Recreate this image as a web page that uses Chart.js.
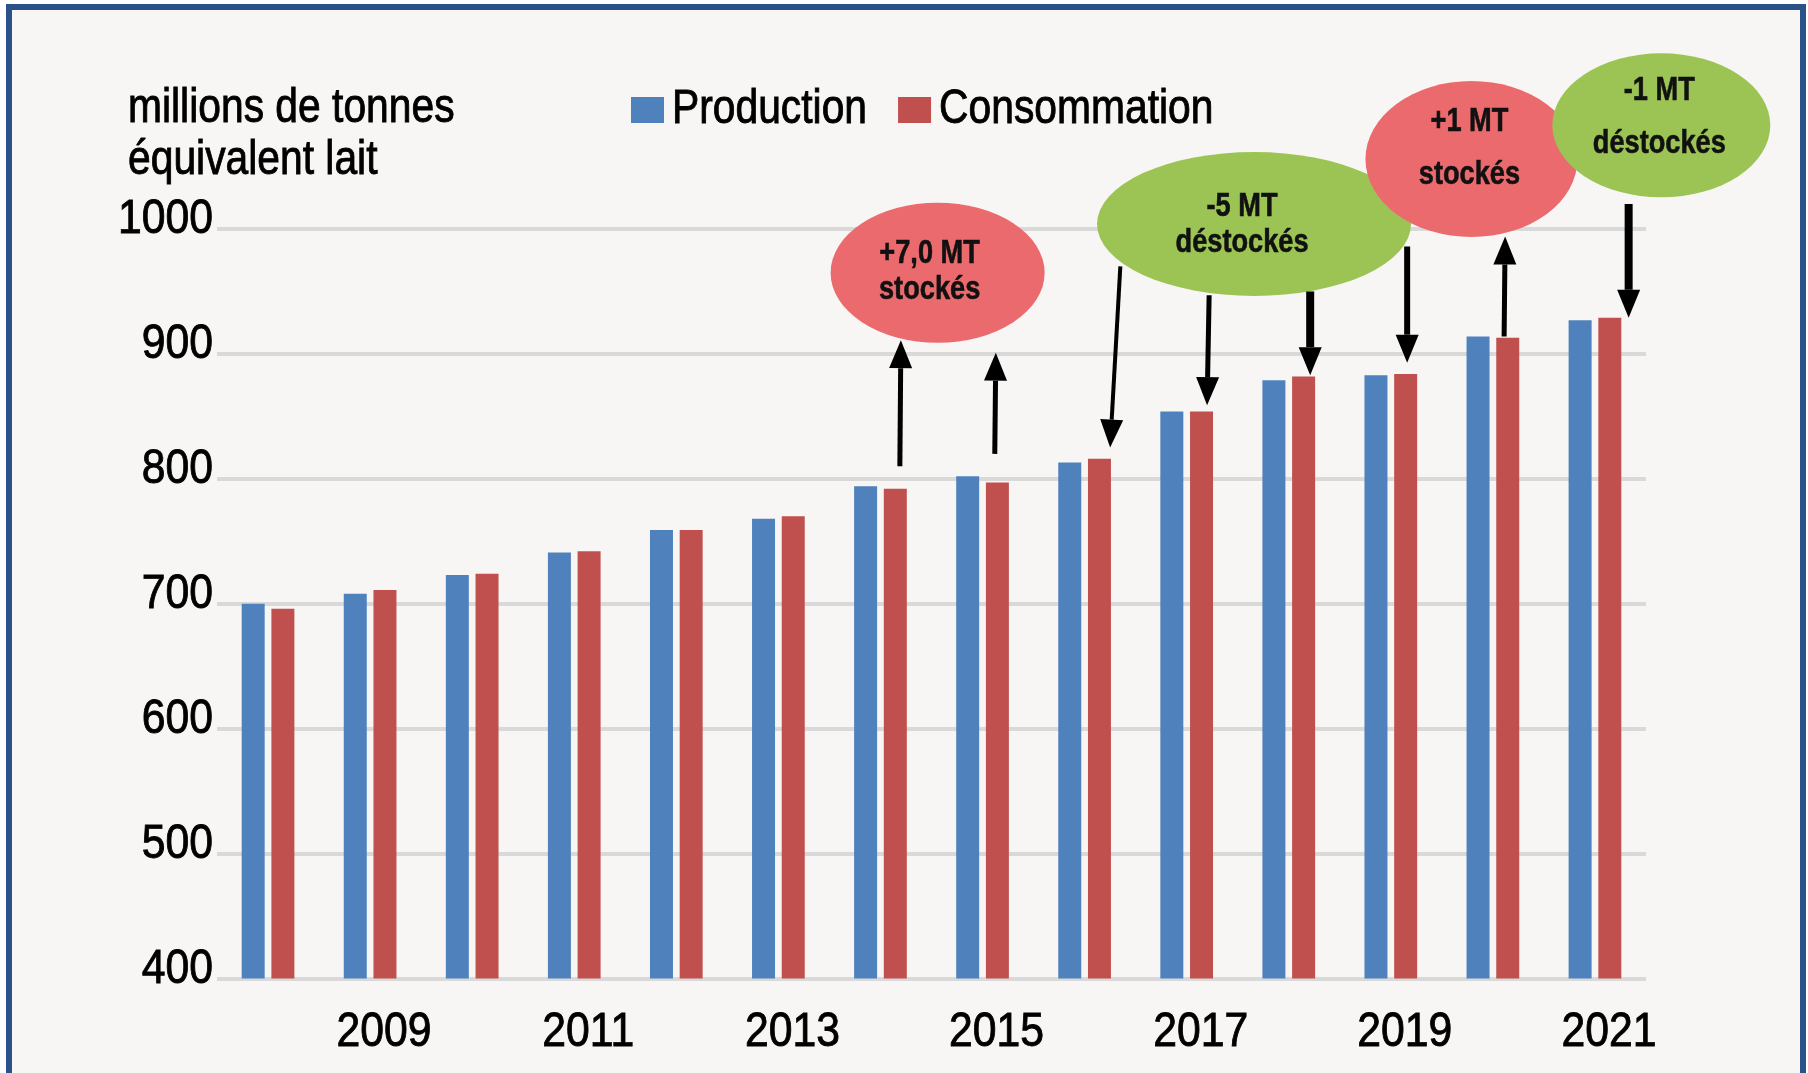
<!DOCTYPE html>
<html>
<head>
<meta charset="utf-8">
<script src="https://cdn.jsdelivr.net/npm/chart.js@4"></script>
<style>
  body { margin: 0; background: #ffffff; }
  canvas { display: block; }
</style>
</head>
<body>
<canvas id="laitChart" width="1808" height="1073"></canvas>
<script>
var years = ["2008", "2009", "2010", "2011", "2012", "2013", "2014",
  "2015", "2016", "2017", "2018", "2019", "2020", "2021"];
var production = [700, 708, 723, 741, 759, 768, 794, 802, 813, 854, 879, 883, 914, 927];
var consommation = [696, 711, 724, 742, 759, 770, 792, 797, 816, 854, 882, 884, 913, 929];
var yTicks = [400, 500, 600, 700, 800, 900, 1000];
var unitLines = ["millions de tonnes", "équivalent lait"];

// pas de police étroite installée : Liberation Sans tassée horizontalement
var FONT = "'Liberation Sans', Arial, sans-serif";
var DIGITS = 0.89;
var WORDS = 0.85;
var BUBBLE = 0.8;

// bulles et flèches, en coordonnées des axes (index d'année, valeur)
var bubbles = [
  { x: 6.56, y: 965, rx: 107, ry: 70, color: "#eb6a6e", lines: ["+7,0 MT", "stockés"], dy: [-19, 17], dx: -8 },
  { x: 9.66, y: 1004, rx: 157, ry: 72, color: "#9bc454", lines: ["-5 MT", "déstockés"], dy: [-17, 19], dx: -12 },
  { x: 11.79, y: 1056, rx: 106, ry: 78, color: "#eb6a6e", lines: ["+1 MT", "stockés"], dy: [-37, 16], dx: -2 },
  { x: 13.65, y: 1083, rx: 109, ry: 72, color: "#9bc454", lines: ["-1 MT", "déstockés"], dy: [-35, 18], dx: -2 },
];
var arrows = [
  { from: [6.19, 810], to: [6.20, 911], w: 5 },
  { from: [7.12, 820], to: [7.13, 901], w: 5 },
  { from: [8.35, 970], to: [8.25, 825], w: 4 },
  { from: [9.22, 947], to: [9.20, 859], w: 5 },
  { from: [10.21, 950], to: [10.21, 883], w: 8 },
  { from: [11.16, 986], to: [11.16, 893], w: 6 },
  { from: [12.11, 914], to: [12.12, 994], w: 5 },
  { from: [13.33, 1020], to: [13.33, 929], w: 8 },
];

function narrowText(c, text, x, y, align, font, sx, heavy) {
  c.save();
  c.font = font;
  c.textAlign = align;
  c.textBaseline = "middle";
  c.translate(x, y);
  c.scale(sx, 1);
  c.fillText(text, 0, 0);
  if (heavy) {
    c.strokeStyle = c.fillStyle;
    c.lineWidth = heavy;
    c.strokeText(text, 0, 0);
  }
  c.restore();
}

var framePlugin = {
  id: "frame",
  beforeDraw: function (chart) {
    var c = chart.ctx;
    c.save();
    c.fillStyle = "#ffffff";
    c.fillRect(0, 0, chart.width, chart.height);
    c.fillStyle = "#f7f6f4";
    c.fillRect(9, 7, 1794, chart.height);
    c.strokeStyle = "#2a5288";
    c.lineWidth = 6;
    c.strokeRect(9, 7, 1794, chart.height + 20);
    c.restore();
  },
};

var notesPlugin = {
  id: "notes",
  afterDraw: function (chart) {
    var c = chart.ctx;
    var xs = chart.scales.x;
    var ys = chart.scales.y;
    var px = function (i) {
      return xs.getPixelForValue(0) + i * (xs.getPixelForValue(1) - xs.getPixelForValue(0));
    };
    var font48 = "48px " + FONT;
    c.save();
    c.fillStyle = "#000000";

    // graduations
    xs.ticks.forEach(function (t, i) {
      if (t.label) {
        narrowText(c, t.label, xs.getPixelForTick(i) + 14, xs.top + 54, "center", font48, DIGITS, 0.9);
      }
    });
    ys.ticks.forEach(function (t, i) {
      narrowText(c, String(t.value), ys.right - 4, ys.getPixelForTick(i) - 9, "right", font48, DIGITS, 0.9);
    });

    // titre de l'axe
    narrowText(c, unitLines[0], 128, 109, "left", font48, WORDS, 0.9);
    narrowText(c, unitLines[1], 128, 161, "left", font48, WORDS, 0.9);

    // légende
    var lx = 631;
    chart.data.datasets.forEach(function (ds) {
      c.fillStyle = ds.backgroundColor;
      c.fillRect(lx, 97, 33, 26);
      c.fillStyle = "#000000";
      narrowText(c, ds.label, lx + 41, 110, "left", font48, WORDS, 0.9);
      c.font = font48;
      lx += 41 + c.measureText(ds.label).width * WORDS + 31;
    });

    // bulles
    bubbles.forEach(function (b) {
      var cx = px(b.x);
      var cy = ys.getPixelForValue(b.y);
      c.beginPath();
      c.ellipse(cx, cy, b.rx, b.ry, 0, 0, Math.PI * 2);
      c.fillStyle = b.color;
      c.fill();
      c.fillStyle = "#111111";
      b.lines.forEach(function (t, k) {
        narrowText(c, t, cx + b.dx, cy + b.dy[k], "center", "bold 34px " + FONT, BUBBLE, 0.6);
      });
    });

    // flèches
    arrows.forEach(function (a) {
      var x1 = px(a.from[0]), y1 = ys.getPixelForValue(a.from[1]);
      var x2 = px(a.to[0]), y2 = ys.getPixelForValue(a.to[1]);
      var ang = Math.atan2(y2 - y1, x2 - x1);
      var head = 28, half = 11.5;
      var bx = x2 - head * Math.cos(ang), by = y2 - head * Math.sin(ang);
      c.strokeStyle = "#000000";
      c.lineWidth = a.w;
      c.beginPath();
      c.moveTo(x1, y1);
      c.lineTo(bx, by);
      c.stroke();
      c.fillStyle = "#000000";
      c.beginPath();
      c.moveTo(x2, y2);
      c.lineTo(bx + half * Math.sin(ang), by - half * Math.cos(ang));
      c.lineTo(bx - half * Math.sin(ang), by + half * Math.cos(ang));
      c.closePath();
      c.fill();
    });
    c.restore();
  },
};

Chart.register(framePlugin, notesPlugin);

var ctx = document.getElementById("laitChart").getContext("2d");
var laitChart = new Chart(ctx, {
  type: "bar",
  data: {
    labels: years,
    datasets: [
      {
        label: "Production",
        data: production,
        backgroundColor: "#4f81bd",
        categoryPercentage: 0.582,
        barPercentage: 0.774,
      },
      {
        label: "Consommation",
        data: consommation,
        backgroundColor: "#c0504d",
        categoryPercentage: 0.582,
        barPercentage: 0.774,
      },
    ],
  },
  options: {
    responsive: false,
    devicePixelRatio: 1,
    animation: false,
    layout: { padding: { top: 229, right: 162, bottom: 0, left: 0 } },
    plugins: {
      legend: { display: false },
      tooltip: { enabled: false },
    },
    scales: {
      x: {
        grid: { display: false },
        border: { display: false },
        afterFit: function (scale) {
          scale.height = 94.5;
        },
        ticks: {
          autoSkip: false,
          maxRotation: 0,
          color: "rgba(0,0,0,0)", // redessinées tassées dans le plugin
          font: { family: FONT, size: 48 },
          callback: function (v, i) {
            return i % 2 === 1 ? this.getLabelForValue(v) : "";
          },
        },
      },
      y: {
        min: yTicks[0],
        max: yTicks[yTicks.length - 1],
        afterFit: function (scale) {
          scale.width = 217;
        },
        afterBuildTicks: function (scale) {
          scale.ticks = yTicks.map(function (v) { return { value: v }; });
        },
        grid: { color: "#d9d9d9", lineWidth: 4, drawTicks: false },
        border: { display: false },
        ticks: {
          color: "rgba(0,0,0,0)",
          font: { family: FONT, size: 48 },
        },
      },
    },
  },
});
</script>
</body>
</html>
